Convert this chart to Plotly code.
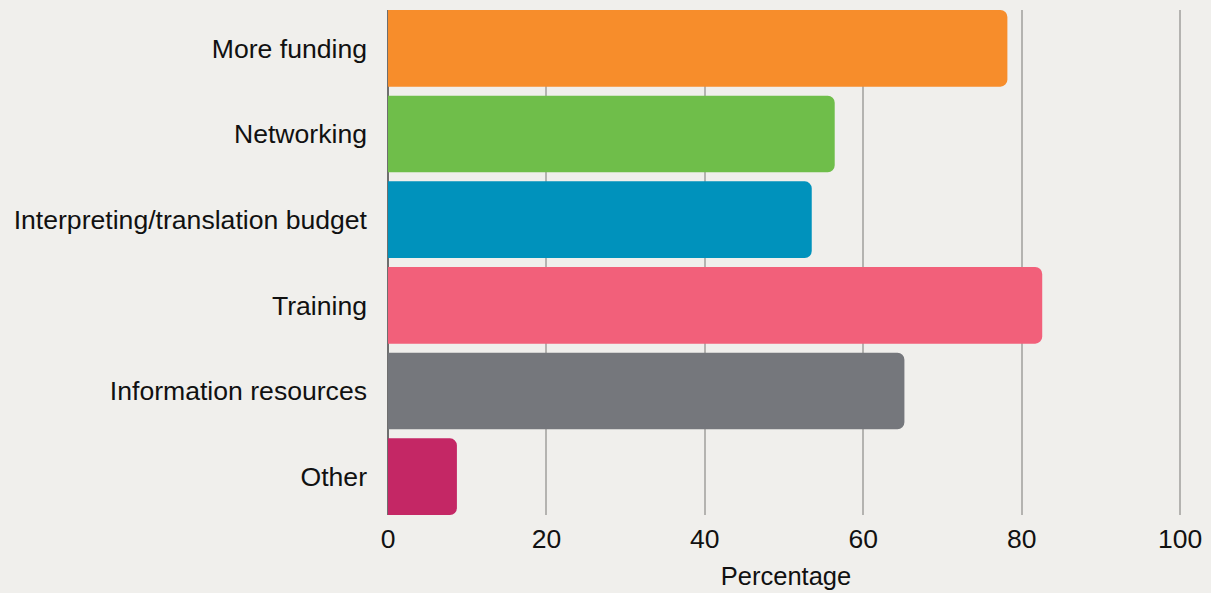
import plotly.graph_objects as go

# Survey responses: share of respondents selecting each type of support
categories = [
    "More funding",
    "Networking",
    "Interpreting/translation budget",
    "Training",
    "Information resources",
    "Other",
]
percentages = [78.2, 56.4, 53.5, 82.6, 65.2, 8.7]
bar_colors = ["#F78D2B", "#6FBE4A", "#0092BC", "#F2607A", "#75777C", "#C42765"]
x_ticks = [0, 20, 40, 60, 80, 100]

BG = "#F0EFEC"
GAP = 0.105

fig = go.Figure(
    go.Bar(
        x=percentages,
        y=categories,
        orientation="h",
        marker=dict(color=bar_colors, line=dict(width=0), cornerradius=7),
        hoverinfo="x+y",
    )
)

fig.update_layout(
    width=1211,
    height=593,
    paper_bgcolor=BG,
    plot_bgcolor=BG,
    margin=dict(l=388, r=27, t=10, b=78),
    bargap=GAP,
    showlegend=False,
    font=dict(family="Liberation Sans, Arial, Helvetica, sans-serif", color="#111111"),
)

fig.update_xaxes(
    range=[0, 100.5],
    tickvals=x_ticks,
    ticktext=[str(v) for v in x_ticks],
    tickfont=dict(size=26.5),
    showgrid=True,
    gridcolor="#B4B3B0",
    gridwidth=1.5,
    zeroline=True,
    zerolinecolor="#6E6E6E",
    zerolinewidth=1.5,
    ticks="",
    ticklabelstandoff=5,
    title=dict(text="Percentage", font=dict(size=25.5), standoff=14),
    automargin=False,
    fixedrange=True,
)

n = len(categories)
fig.update_yaxes(
    categoryorder="array",
    categoryarray=categories,
    autorange=False,
    range=[n - 0.5 - GAP / 2, -0.5 + GAP / 2],
    tickfont=dict(size=26.6),
    showgrid=False,
    ticks="",
    ticklabelstandoff=20,
    automargin=False,
    fixedrange=True,
)

fig.write_html("out.html")
